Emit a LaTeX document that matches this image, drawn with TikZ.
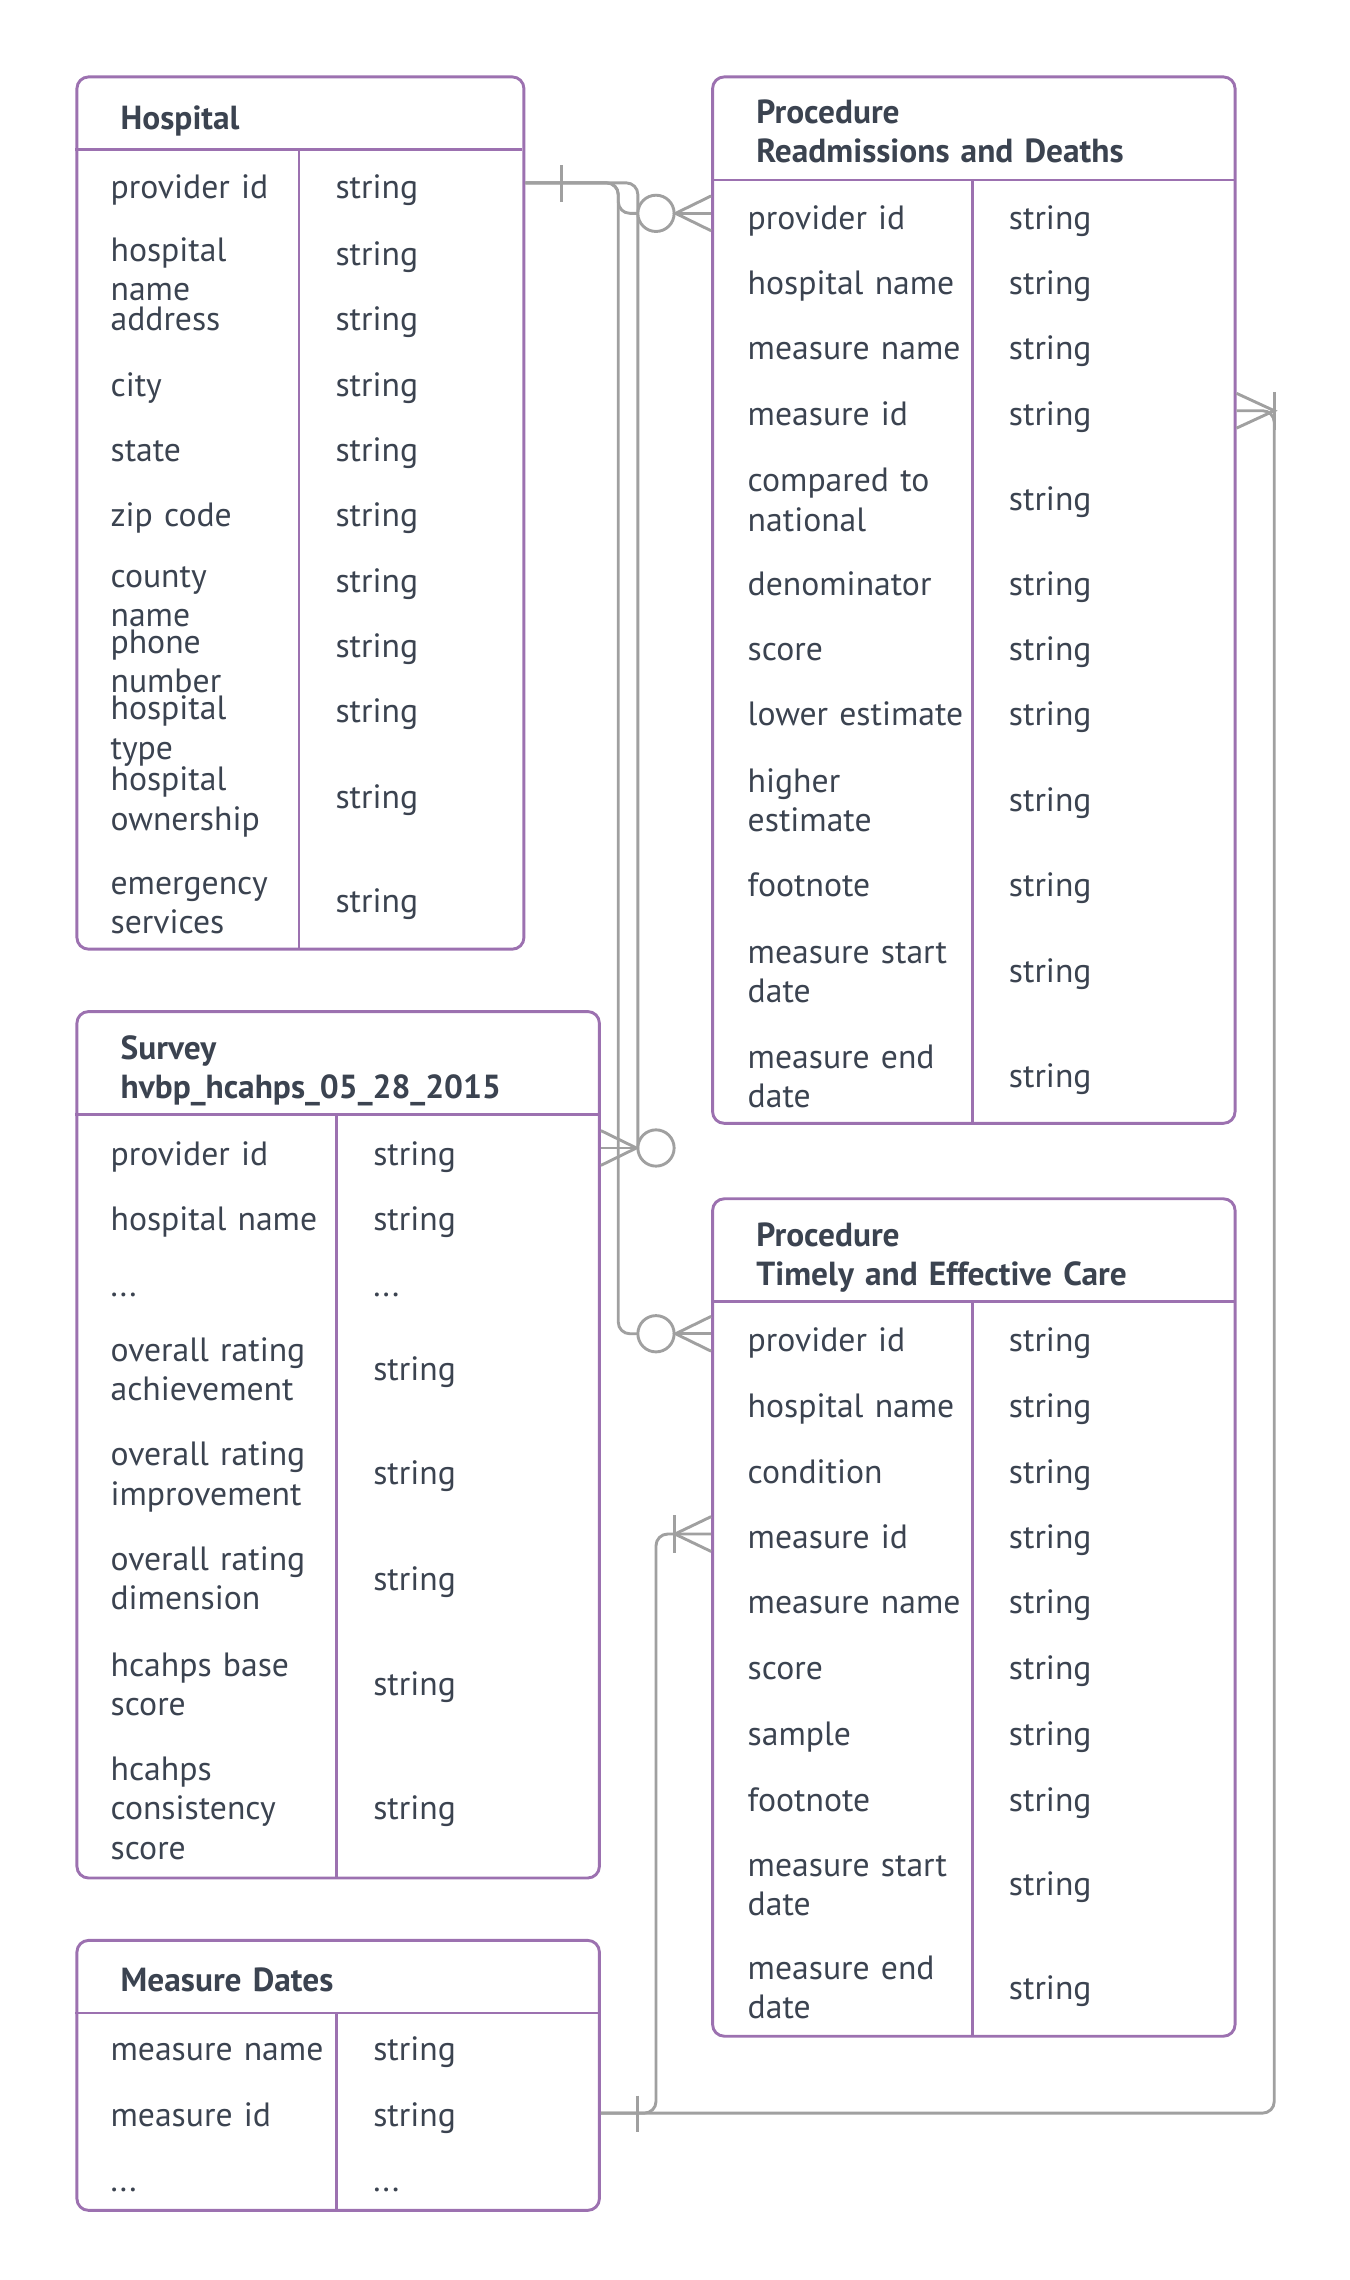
\documentclass[tikz,border=0pt]{standalone}
\usepackage{fontspec}
\setmainfont{PT Sans}
\definecolor{frame}{HTML}{9C71B0}
\definecolor{ink}{HTML}{3B4350}
\definecolor{rgray}{HTML}{A0A0A0}
\begin{document}
\begin{tikzpicture}[x=1pt,y=-1pt,
  tbl/.style={draw=frame,line width=2pt,rounded corners=8pt,anchor=north west,inner sep=0},
  div/.style={draw=frame,line width=2pt},
  fld/.style={anchor=base west,inner sep=0,text=ink,text width=190pt,align=left,font=\fontsize{23.2}{27}\selectfont},
  ttl/.style={fld,text width=330pt,font=\bfseries\fontsize{23}{27}\selectfont},
  rel/.style={draw=rgray,line width=2pt},
  zc/.style={circle,draw=rgray,fill=white,line width=2pt,minimum size=25pt,inner sep=0}]
\useasboundingbox (0,0) rectangle (930,1571);
% Hospital
\node[tbl,minimum width=308pt,minimum height=601pt] (hosp) at (52,52) {};
\path[div] (52,103) -- (360,103);
\path[div] (206,103) -- (206,653);
\node[ttl] (hosp-t) at (83,89) {Hospital};
\node[fld] (h1) at (76,137) {provider id};
\node[fld] (h1s) at (231,137) {string};
\node[fld] (h2) at (76,180) {hospital\\name};
\node[fld] (h2s) at (231,183) {string};
\node[fld] (h3) at (76,228) {address};
\node[fld] (h3s) at (231,228) {string};
\node[fld] (h4) at (76,273) {city};
\node[fld] (h4s) at (231,273) {string};
\node[fld] (h5) at (76,318) {state};
\node[fld] (h5s) at (231,318) {string};
\node[fld] (h6) at (76,363) {zip code};
\node[fld] (h6s) at (231,363) {string};
\node[fld] (h7) at (76,405) {county\\name};
\node[fld] (h7s) at (231,408) {string};
\node[fld] (h8) at (76,450) {phone\\number};
\node[fld] (h8s) at (231,453) {string};
\node[fld] (h9) at (76,496) {hospital\\type};
\node[fld] (h9s) at (231,498) {string};
\node[fld] (h10) at (76,545) {hospital\\ownership};
\node[fld] (h10s) at (231,557) {string};
\node[fld] (h11) at (76,616) {emergency\\services};
\node[fld] (h11s) at (231,629) {string};
% Procedure Readmissions and Deaths
\node[tbl,minimum width=360pt,minimum height=721pt] (prd) at (490,52) {};
\path[div] (490,124) -- (850,124);
\path[div] (670,124) -- (670,773);
\node[ttl] (prd-t) at (521,85) {Procedure\\Readmissions and Deaths};
\node[fld] (r1) at (515,158) {provider id};
\node[fld] (r1s) at (695,158) {string};
\node[fld] (r2) at (515,203) {hospital name};
\node[fld] (r2s) at (695,203) {string};
\node[fld] (r3) at (515,248) {measure name};
\node[fld] (r3s) at (695,248) {string};
\node[fld] (r4) at (515,293) {measure id};
\node[fld] (r4s) at (695,293) {string};
\node[fld] (r5) at (515,339) {compared to\\national};
\node[fld] (r5s) at (695,352) {string};
\node[fld] (r6) at (515,410) {denominator};
\node[fld] (r6s) at (695,410) {string};
\node[fld] (r7) at (515,455) {score};
\node[fld] (r7s) at (695,455) {string};
\node[fld] (r8) at (515,500) {lower estimate};
\node[fld] (r8s) at (695,500) {string};
\node[fld] (r9) at (515,546) {higher\\estimate};
\node[fld] (r9s) at (695,559) {string};
\node[fld] (r10) at (515,618) {footnote};
\node[fld] (r10s) at (695,618) {string};
\node[fld] (r11) at (515,664) {measure start\\date};
\node[fld] (r11s) at (695,677) {string};
\node[fld] (r12) at (515,736) {measure end\\date};
\node[fld] (r12s) at (695,749) {string};
% Survey
\node[tbl,minimum width=360pt,minimum height=597pt] (surv) at (52,696) {};
\path[div] (52,768) -- (412,768);
\path[div] (232,768) -- (232,1293);
\node[ttl] (surv-t) at (83,730) {Survey\\hvbp\_hcahps\_05\_28\_2015};
\node[fld] (s1) at (76,803) {provider id};
\node[fld] (s1s) at (257,803) {string};
\node[fld] (s2) at (76,848) {hospital name};
\node[fld] (s2s) at (257,848) {string};
\node[fld] (s3) at (76,893) {...};
\node[fld] (s3s) at (257,893) {...};
\node[fld] (s4) at (76,938) {overall rating\\achievement};
\node[fld] (s4s) at (257,951) {string};
\node[fld] (s5) at (76,1010) {overall rating\\improvement};
\node[fld] (s5s) at (257,1023) {string};
\node[fld] (s6) at (76,1082) {overall rating\\dimension};
\node[fld] (s6s) at (257,1096) {string};
\node[fld] (s7) at (76,1155) {hcahps base\\score};
\node[fld] (s7s) at (257,1168) {string};
\node[fld] (s8) at (76,1227) {hcahps\\consistency\\score};
\node[fld] (s8s) at (257,1254) {string};
% Measure Dates
\node[tbl,minimum width=360pt,minimum height=186pt] (md) at (52,1336) {};
\path[div] (52,1387) -- (412,1387);
\path[div] (232,1387) -- (232,1522);
\node[ttl] (md-t) at (83,1372) {Measure Dates};
\node[fld] (m1) at (76,1420) {measure name};
\node[fld] (m1s) at (257,1420) {string};
\node[fld] (m2) at (76,1465) {measure id};
\node[fld] (m2s) at (257,1465) {string};
\node[fld] (m3) at (76,1510) {...};
\node[fld] (m3s) at (257,1510) {...};
% Procedure Timely and Effective Care
\node[tbl,minimum width=360pt,minimum height=577pt] (ptec) at (490,825) {};
\path[div] (490,897) -- (850,897);
\path[div] (670,897) -- (670,1402);
\node[ttl] (ptec-t) at (521,859) {Procedure\\Timely and Effective Care};
\node[fld] (p1) at (515,931) {provider id};
\node[fld] (p1s) at (695,931) {string};
\node[fld] (p2) at (515,977) {hospital name};
\node[fld] (p2s) at (695,977) {string};
\node[fld] (p3) at (515,1022) {condition};
\node[fld] (p3s) at (695,1022) {string};
\node[fld] (p4) at (515,1067) {measure id};
\node[fld] (p4s) at (695,1067) {string};
\node[fld] (p5) at (515,1112) {measure name};
\node[fld] (p5s) at (695,1112) {string};
\node[fld] (p6) at (515,1157) {score};
\node[fld] (p6s) at (695,1157) {string};
\node[fld] (p7) at (515,1203) {sample};
\node[fld] (p7s) at (695,1203) {string};
\node[fld] (p8) at (515,1248) {footnote};
\node[fld] (p8s) at (695,1248) {string};
\node[fld] (p9) at (515,1293) {measure start\\date};
\node[fld] (p9s) at (695,1306) {string};
\node[fld] (p10) at (515,1364) {measure end\\date};
\node[fld] (p10s) at (695,1378) {string};
% relations from Hospital
\path[rel,rounded corners=8pt] (hosp.east |- 0,126) -- (426,126) |- (452,147);
\path[rel,rounded corners=8pt] (hosp.east |- 0,126) -| (439.5,791);
\path[rel,rounded corners=8pt] (hosp.east |- 0,126) -- (426,126) |- (452,919);
\node[zc] (prd-o) at (452,147) {};
\node[zc] (surv-o) at (452,791) {};
\node[zc] (ptec-o) at (452,919) {};
\path[rel] (387,114) -- (387,139);
\path[rel] (prd.west |- 0,135) -- (prd-o.east) -- (prd.west |- 0,159);
\path[rel] (prd-o.east) -- (prd.west |- prd-o);
\path[rel] (surv.east |- 0,779) -- (surv-o.west) -- (surv.east |- 0,803);
\path[rel] (surv-o.west) -- (surv.east |- surv-o);
\path[rel] (ptec.west |- 0,907) -- (ptec-o.east) -- (ptec.west |- 0,931);
\path[rel] (ptec-o.east) -- (ptec.west |- ptec-o);
% relations from Measure Dates
\path[rel,rounded corners=8pt] (md.east |- 0,1456) -| (878,283) -- (prd.east |- 0,283);
\path[rel,rounded corners=8pt] (md.east |- 0,1456) -| (452,1057) -- (ptec.west |- 0,1057);
\path[rel] (439,1444) -- (439,1469);
\path[rel] (878,270) -- (878,296);
\path[rel] (prd.east |- 0,271) -- (878,283) -- (prd.east |- 0,295);
\path[rel] (465,1044) -- (465,1070);
\path[rel] (ptec.west |- 0,1045) -- (465,1057) -- (ptec.west |- 0,1069);
\end{tikzpicture}
\end{document}
